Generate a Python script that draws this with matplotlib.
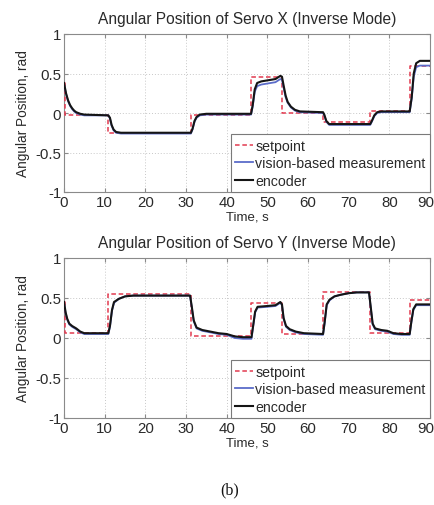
import matplotlib
matplotlib.use("Agg")
import matplotlib.pyplot as plt
import matplotlib.transforms as mtransforms

plt.rcParams['font.family'] = ['Liberation Sans', 'DejaVu Sans']

# ---------------- Servo X ----------------
x_sp_t = [0, 0.2, 10.9, 31.2, 46.0, 53.6, 63.7, 75.3, 85.0, 90]
x_sp_v = [0.38, -0.03, -0.25, -0.03, 0.46, 0.0, -0.11, 0.03, 0.60, 0.60]

x_enc_t = [0, 0.5, 1, 1.5, 2, 2.5, 3, 4, 5, 10.9, 11.3, 11.7, 12.2, 12.8, 14,
           31.2, 31.6, 32.1, 32.6, 33.4, 35, 46.0, 46.4, 46.9, 47.5, 48.5, 52,
           53.2, 53.6, 54.0, 54.5, 55, 55.8, 56.8, 58, 63.7, 64.0, 64.5, 65.2,
           75.3, 75.7, 76.3, 77, 78, 85.0, 85.5, 86.0, 86.6, 87.5, 90]
x_enc_v = [0.38, 0.25, 0.16, 0.10, 0.06, 0.03, 0.01, -0.01, -0.02, -0.03, -0.06,
           -0.15, -0.21, -0.24, -0.25, -0.25, -0.20, -0.10, -0.05, -0.02, -0.01,
           -0.01, 0.10, 0.30, 0.38, 0.40, 0.43, 0.47, 0.46, 0.35, 0.22, 0.14,
           0.08, 0.04, 0.02, 0.01, -0.02, -0.10, -0.14, -0.14, -0.10, -0.03,
           0.01, 0.02, 0.02, 0.20, 0.50, 0.63, 0.66, 0.66]

x_vis_t = x_enc_t
x_vis_v = [0.37, 0.24, 0.15, 0.09, 0.05, 0.02, 0.0, -0.02, -0.03, -0.03, -0.07,
           -0.16, -0.22, -0.25, -0.26, -0.26, -0.21, -0.11, -0.06, -0.03, -0.02,
           -0.02, 0.08, 0.27, 0.34, 0.36, 0.39, 0.43, 0.42, 0.32, 0.20, 0.13,
           0.07, 0.03, 0.01, 0.0, -0.03, -0.11, -0.15, -0.15, -0.11, -0.04,
           0.0, 0.01, 0.01, 0.18, 0.46, 0.58, 0.60, 0.60]

# ---------------- Servo Y ----------------
y_sp_t = [0, 0.2, 10.9, 31.2, 46.1, 53.6, 63.7, 75.2, 85.0, 90]
y_sp_v = [0.45, 0.06, 0.55, 0.03, 0.44, 0.05, 0.57, 0.06, 0.48, 0.48]

y_enc_t = [0, 0.4, 0.8, 1.3, 2, 3, 4, 5, 10.9, 11.3, 11.8, 12.3, 13.5, 15, 17,
           31.0, 31.4, 31.9, 32.6, 34, 36, 38, 40, 42, 44, 46.1, 46.5, 47.0,
           47.6, 50, 52, 53.2, 53.6, 54.0, 54.6, 55.5, 57, 59, 63.7, 64.1, 64.6,
           65.3, 66.5, 68, 70, 72, 75.0, 75.4, 75.9, 76.5, 78, 79.5, 81, 83,
           85.0, 85.4, 85.9, 86.6, 90]
y_enc_v = [0.45, 0.32, 0.24, 0.18, 0.15, 0.12, 0.08, 0.06, 0.06, 0.15, 0.35,
           0.45, 0.49, 0.52, 0.53, 0.53, 0.40, 0.22, 0.13, 0.10, 0.08, 0.06,
           0.05, 0.02, 0.01, 0.01, 0.15, 0.33, 0.39, 0.40, 0.41, 0.45, 0.42,
           0.25, 0.15, 0.11, 0.08, 0.06, 0.05, 0.20, 0.42, 0.48, 0.52, 0.54,
           0.56, 0.57, 0.57, 0.40, 0.18, 0.12, 0.10, 0.09, 0.06, 0.05, 0.05,
           0.20, 0.36, 0.42, 0.42]

y_vis_t = y_enc_t
y_vis_v = [0.44, 0.31, 0.23, 0.17, 0.14, 0.11, 0.07, 0.05, 0.05, 0.14, 0.34,
           0.44, 0.49, 0.52, 0.53, 0.53, 0.39, 0.21, 0.12, 0.09, 0.07, 0.05,
           0.04, 0.0, -0.01, -0.01, 0.14, 0.32, 0.38, 0.39, 0.40, 0.44, 0.41,
           0.24, 0.14, 0.10, 0.07, 0.05, 0.04, 0.19, 0.41, 0.47, 0.52, 0.54,
           0.56, 0.57, 0.57, 0.39, 0.17, 0.11, 0.09, 0.08, 0.05, 0.04, 0.04,
           0.19, 0.35, 0.41, 0.41]

titles = ["Angular Position of Servo X (Inverse Mode)",
          "Angular Position of Servo Y (Inverse Mode)"]
legend_labels = ["setpoint", "vision-based measurement", "encoder"]
x_ticks = list(range(0, 91, 10))
y_ticks = [-1, -0.5, 0, 0.5, 1]
y_tick_labels = ["-1", "-0.5", "0", "0.5", "1"]

SP_C = "#e23a50"
VIS_C = "#5b6cc9"
ENC_C = "#151515"
TXT = "#2a2a2a"
SPINE = "#8a8a8a"

fig = plt.figure(figsize=(4.35, 5.06), dpi=100)
W, H = 435, 506
axes_px = [(64, 35, 430, 193), (64, 259, 430, 419)]

series = [(x_sp_t, x_sp_v, x_vis_t, x_vis_v, x_enc_t, x_enc_v),
          (y_sp_t, y_sp_v, y_vis_t, y_vis_v, y_enc_t, y_enc_v)]

for i, (l, t, r, b) in enumerate(axes_px):
    ax = fig.add_axes([l / W, 1 - b / H, (r - l) / W, (b - t) / H])
    sp_t, sp_v, vt, vv, et, ev = series[i]
    ax.plot(sp_t, sp_v, drawstyle='steps-post', color=SP_C, lw=1.1,
            ls=(0, (3, 1.8)), label=legend_labels[0], zorder=3)
    ax.plot(vt, vv, color=VIS_C, lw=1.3, label=legend_labels[1], zorder=4)
    ax.plot(et, ev, color=ENC_C, lw=1.5, label=legend_labels[2], zorder=5)
    ax.set_xlim(0, 90)
    ax.set_ylim(-1, 1)
    ax.set_xticks(x_ticks)
    ax.set_yticks(y_ticks)
    ax.set_yticklabels(y_tick_labels)
    ax.grid(True, color="#c8c8c8", ls=(0, (1, 2)), lw=0.7)
    ax.tick_params(direction='in', top=True, right=True, length=3,
                   labelsize=10.8, colors=SPINE, labelcolor=TXT, pad=2)
    for s in ax.spines.values():
        s.set_color(SPINE)
        s.set_linewidth(0.8)
    # keep the last x tick label inside the figure
    last = ax.get_xticklabels()[-1]
    last.set_transform(last.get_transform() +
                       mtransforms.ScaledTranslation(-4 / 100, 0, fig.dpi_scale_trans))
    ax.set_title(titles[i], fontsize=11.2, color=TXT, pad=8)
    ax.set_xlabel("Time, s", fontsize=9.5, color=TXT, labelpad=1)
    ax.set_ylabel("Angular Position, rad", fontsize=9.8, color=TXT, labelpad=4)
    leg = ax.legend(loc='lower right', borderaxespad=0, handlelength=1.3,
                    handletextpad=0.15, labelspacing=0.25, borderpad=0.3,
                    fontsize=10.2, fancybox=False, framealpha=1)
    leg.get_frame().set_edgecolor("#7a7a7a")
    leg.get_frame().set_linewidth(0.8)
    for txt in leg.get_texts():
        txt.set_color(TXT)

fig.text(230 / W, 1 - 490 / H, "(b)", ha='center', va='center',
         fontsize=11.5, family=['Liberation Serif', 'DejaVu Serif'], color="#111111")

fig.savefig("out.png", dpi=100)
